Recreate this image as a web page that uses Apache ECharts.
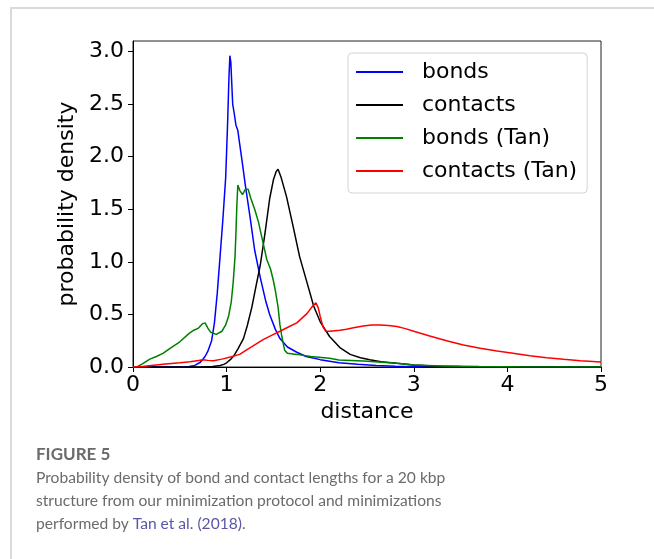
<!DOCTYPE html>
<html>
<head>
<meta charset="utf-8">
<script src="https://cdn.jsdelivr.net/npm/echarts@6/dist/echarts.min.js"></script>
<style>
  html, body { margin: 0; padding: 0; background: #fff; }
  #chart { width: 654px; height: 559px; }
</style>
</head>
<body>
<div id="chart"></div>
<script>
// values: [distance, probability density]
const bonds = [[0,0],[0.5,0],[0.6,0.004],[0.66,0.015],[0.72,0.045],[0.77,0.1],[0.8,0.15],[0.84,0.25],[0.87,0.42],[0.9,0.7],[0.93,1.05],[0.96,1.4],[0.99,1.8],[1.01,2.3],[1.025,2.75],[1.035,2.96],[1.045,2.9],[1.055,2.7],[1.065,2.5],[1.08,2.42],[1.1,2.3],[1.12,2.25],[1.14,2.12],[1.17,1.93],[1.2,1.73],[1.25,1.43],[1.3,1.11],[1.36,0.85],[1.42,0.62],[1.46,0.5],[1.52,0.36],[1.57,0.27],[1.65,0.19],[1.75,0.14],[1.85,0.1],[2.0,0.07],[2.2,0.04],[2.4,0.025],[2.6,0.015],[2.8,0.008],[3.0,0.004],[3.5,0.001],[4,0],[5,0]];
const contacts = [[0,0],[0.7,0],[0.85,0.005],[0.93,0.015],[0.97,0.025],[1.0,0.04],[1.04,0.07],[1.08,0.11],[1.12,0.17],[1.18,0.27],[1.22,0.39],[1.27,0.57],[1.31,0.75],[1.36,0.97],[1.41,1.27],[1.46,1.6],[1.5,1.78],[1.53,1.86],[1.55,1.88],[1.58,1.81],[1.64,1.62],[1.71,1.34],[1.78,1.05],[1.86,0.8],[1.93,0.58],[2.0,0.43],[2.1,0.29],[2.21,0.185],[2.32,0.12],[2.43,0.088],[2.53,0.068],[2.65,0.05],[2.82,0.035],[3.0,0.02],[3.2,0.01],[3.5,0.004],[4,0.001],[5,0]];
const bondsTan = [[0,0],[0.05,0.005],[0.1,0.03],[0.18,0.075],[0.25,0.1],[0.32,0.13],[0.4,0.18],[0.5,0.24],[0.6,0.32],[0.65,0.35],[0.7,0.37],[0.74,0.41],[0.77,0.42],[0.8,0.37],[0.83,0.33],[0.89,0.31],[0.95,0.34],[0.99,0.4],[1.02,0.48],[1.05,0.62],[1.07,0.8],[1.09,1.05],[1.1,1.28],[1.11,1.55],[1.12,1.73],[1.14,1.68],[1.17,1.64],[1.2,1.69],[1.23,1.69],[1.26,1.6],[1.3,1.5],[1.34,1.38],[1.375,1.24],[1.41,1.1],[1.43,1.02],[1.47,0.93],[1.5,0.82],[1.52,0.73],[1.55,0.57],[1.57,0.4],[1.59,0.29],[1.62,0.16],[1.65,0.13],[1.75,0.12],[1.9,0.1],[2.1,0.083],[2.2,0.067],[2.46,0.057],[2.82,0.035],[3.0,0.02],[3.3,0.01],[3.7,0.004],[4.2,0.001],[5,0]];
const contactsTan = [[0,0],[0.1,0.005],[0.32,0.025],[0.5,0.04],[0.61,0.05],[0.7,0.062],[0.75,0.07],[0.8,0.063],[0.86,0.06],[0.95,0.075],[1.04,0.095],[1.14,0.12],[1.21,0.16],[1.3,0.21],[1.39,0.26],[1.48,0.3],[1.57,0.34],[1.66,0.38],[1.75,0.42],[1.8,0.46],[1.86,0.51],[1.92,0.58],[1.955,0.61],[1.98,0.56],[2.0,0.48],[2.03,0.38],[2.06,0.34],[2.1,0.34],[2.21,0.35],[2.28,0.36],[2.37,0.375],[2.46,0.39],[2.55,0.4],[2.64,0.4],[2.73,0.395],[2.82,0.385],[2.91,0.365],[3.0,0.34],[3.17,0.295],[3.35,0.25],[3.53,0.21],[3.71,0.178],[3.89,0.152],[4.06,0.13],[4.24,0.106],[4.42,0.089],[4.6,0.073],[4.78,0.06],[5,0.047]];

const seriesNames = ['bonds', 'contacts', 'bonds (Tan)', 'contacts (Tan)'];
const seriesColors = ['#0000ff', '#000000', '#008000', '#ff0000'];
const yTicks = [0, 0.5, 1.0, 1.5, 2.0, 2.5, 3.0];

const chart = echarts.init(document.getElementById('chart'), null, { renderer: 'canvas' });

const axisFont = { fontFamily: 'DejaVu Sans', fontSize: 22, color: '#000' };
const capColor = '#6b6b6b';
const capFont = 'Lato';

const option = {
    backgroundColor: '#fff',
    animation: false,
    grid: {
        left: 133, right: 53, top: 41, bottom: 192,
        show: true, borderColor: '#222', borderWidth: 1, backgroundColor: 'transparent'
    },
    legend: {
        orient: 'vertical',
        left: 348, top: 53,
        padding: [8, 10, 11, 8],
        itemWidth: 47, itemHeight: 2, itemGap: 11,
        icon: 'rect',
        data: seriesNames,
        textStyle: Object.assign({ lineHeight: 22, padding: [0, 0, 0, 14] }, axisFont),
        borderColor: '#d4d4d4', borderWidth: 1, borderRadius: 4,
        backgroundColor: 'rgba(255,255,255,0.85)'
    },
    xAxis: {
        type: 'value', min: 0, max: 5, interval: 1,
        name: 'distance', nameLocation: 'middle', nameGap: 32,
        nameTextStyle: axisFont,
        axisLine: { lineStyle: { color: '#000', width: 1 } },
        axisTick: { inside: false, length: 5, lineStyle: { color: '#000' } },
        axisLabel: Object.assign({ margin: 7 }, axisFont),
        splitLine: { show: false }
    },
    yAxis: {
        type: 'value', min: 0, max: 3.1, interval: 0.5,
        name: 'probability density', nameLocation: 'middle', nameGap: 50,
        nameTextStyle: axisFont,
        axisLine: { show: true, lineStyle: { color: '#000', width: 1 } },
        axisTick: { show: true, length: 5, customValues: yTicks, lineStyle: { color: '#000' } },
        axisLabel: Object.assign({
            margin: 9, customValues: yTicks,
            formatter: v => v.toFixed(1)
        }, axisFont),
        splitLine: { show: false }
    },
    series: [bonds, contacts, bondsTan, contactsTan].map((d, i) => ({
        name: seriesNames[i],
        type: 'line',
        data: d,
        showSymbol: false,
        symbol: 'none',
        color: seriesColors[i],
        lineStyle: { color: seriesColors[i], width: 1.5 },
        z: 2 + i
    })),
    graphic: [
        {
            type: 'rect', z: -10, silent: true,
            shape: { x: 11, y: 8, width: 700, height: 600 },
            style: { fill: 'none', stroke: '#dadada', lineWidth: 2 }
        },
        {
            type: 'text', left: 36, top: 446,
            style: { text: 'FIGURE 5', fill: capColor, font: 'bold 17px ' + capFont }
        },
        {
            type: 'text', left: 36, top: 466,
            style: {
                text: 'Probability density of bond and contact lengths for a 20 kbp\nstructure from our minimization protocol and minimizations\nperformed by {link|Tan et al. (2018)}.',
                fill: capColor, font: '15.6px ' + capFont, lineHeight: 23,
                rich: { link: { fill: '#5a56a8', font: '15.6px ' + capFont, lineHeight: 23 } }
            }
        }
    ]
};

chart.setOption(option);
</script>
</body>
</html>
